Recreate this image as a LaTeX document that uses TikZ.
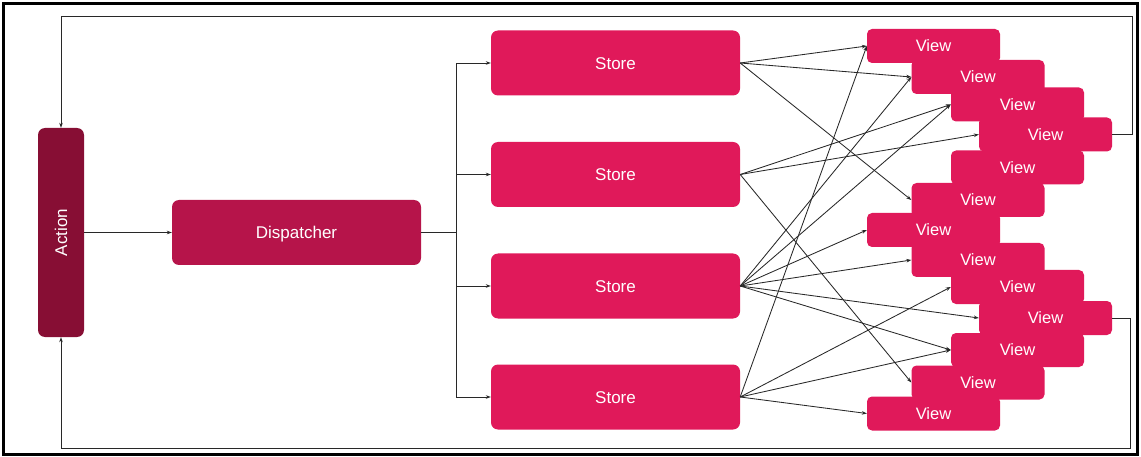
\documentclass[tikz,border=0pt]{standalone}
\usepackage{fontspec}
\setmainfont{Liberation Sans}
\usetikzlibrary{arrows.meta}
\definecolor{actcol}{RGB}{135,14,52}
\definecolor{dispcol}{RGB}{182,20,74}
\definecolor{storecol}{RGB}{224,25,90}
\definecolor{linecol}{RGB}{40,40,40}
\begin{document}
\begin{tikzpicture}[x=1pt,y=-1pt,
  boxbase/.style={rounded corners=7pt, text=white, font=\fontsize{17}{20}\selectfont, inner sep=0pt, draw=none, text height=12.2pt, text depth=0pt},
  actbox/.style={rounded corners=7pt, text=white, font=\fontsize{17}{20}\selectfont, inner sep=0pt, fill=actcol, minimum width=46pt, minimum height=209pt},
  dispbox/.style={boxbase, fill=dispcol, minimum width=249pt, minimum height=65pt},
  storebox/.style={boxbase, fill=storecol, minimum width=249pt, minimum height=65pt},
  viewbox/.style={boxbase, rounded corners=5pt, fill=storecol, minimum width=133pt, minimum height=34pt, font=\fontsize{16.5}{20}\selectfont, text height=11.8pt},
  conn/.style={draw=linecol, line width=0.85pt},
  arr/.style={conn, -{Stealth[length=5pt,width=3.6pt]}}
]
\useasboundingbox (0,0) rectangle (1141,457);
\draw[line width=2.5pt] (3.5,3.5) rectangle (1137.5,454.5);

\node[actbox] (act) at (61,232.5) {\rotatebox{90}{\raisebox{-4.2pt}{Action}}};
\node[dispbox] (disp) at (296.5,232.5) {Dispatcher};
\node[storebox] (s1) at (615.5,63) {Store};
\node[storebox] (s2) at (615.5,174.5) {Store};
\node[storebox] (s3) at (615.5,286) {Store};
\node[storebox] (s4) at (615.5,397) {Store};

\node[viewbox] (v1) at (933.5,46) {View};
\node[viewbox] (v2) at (978,77) {View};
\node[viewbox] (v3) at (1017.5,104.5) {View};
\node[viewbox] (v4) at (1045.5,134.5) {View};
\node[viewbox] (v5) at (1017.5,167.5) {View};
\node[viewbox] (v6) at (978,200) {View};
\node[viewbox] (v7) at (933.5,230) {View};
\node[viewbox] (v8) at (978,260) {View};
\node[viewbox] (v9) at (1017.5,287) {View};
\node[viewbox] (v10) at (1045.5,318) {View};
\node[viewbox] (v11) at (1017.5,350) {View};
\node[viewbox] (v12) at (978,382.5) {View};
\node[viewbox] (v13) at (933.5,413.5) {View};

% action -> dispatcher
\draw[arr] (act.east) -- (disp.west);
% dispatcher -> stores
\coordinate (bx) at (456,232.5);
\draw[conn] (disp.east) -- (bx);
\draw[arr] (bx) |- (s1.west);
\draw[arr] (bx) |- (s2.west);
\draw[arr] (bx) |- (s3.west);
\draw[arr] (bx) |- (s4.west);

% stores -> views
\draw[arr] (s1.east) -- (v1.west);
\draw[arr] (s1.east) -- (v2.west);
\draw[arr] (s1.east) -- (v6.west);
\draw[arr] (s2.east) -- (v3.west);
\draw[arr] (s2.east) -- (v4.west);
\draw[arr] (s2.east) -- (v12.west);
\draw[arr] (s3.east) -- (v2.west);
\draw[arr] (s3.east) -- (v3.west);
\draw[arr] (s3.east) -- (v7.west);
\draw[arr] (s3.east) -- (v8.west);
\draw[arr] (s3.east) -- (v10.west);
\draw[arr] (s3.east) -- (v11.west);
\draw[arr] (s4.east) -- (v1.west);
\draw[arr] (s4.east) -- (v9.west);
\draw[arr] (s4.east) -- (v11.west);
\draw[arr] (s4.east) -- (v13.west);

% feedback loops
\coordinate (ctr) at (1132,16);
\coordinate (cbr) at (1130,448);
\draw[arr] (v4.east) -| (ctr) -| (act.north);
\draw[arr] (v10.east) -| (cbr) -| (act.south);
\end{tikzpicture}
\end{document}
